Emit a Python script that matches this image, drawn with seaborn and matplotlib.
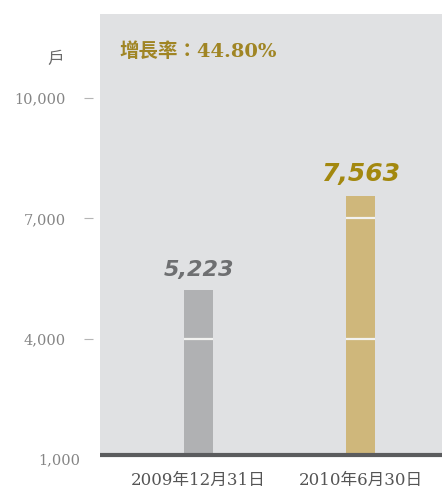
import matplotlib
matplotlib.use("Agg")
import matplotlib.pyplot as plt
import seaborn as sns
import pandas as pd

# ==========================================
# Data
# ==========================================
dates = ["2009年12月31日", "2010年6月30日"]
households = [5223, 7563]
value_labels = ["5,223", "7,563"]
y_ticks = [4000, 7000, 10000]
y_tick_labels = ["4,000", "7,000", "10,000"]
bottom_label = "1,000"
unit = "戶"
growth_text = "增長率：44.80%"

bar_colors = ["#b0b1b3", "#cfb77b"]
value_colors = ["#6e6f71", "#a3880f"]
value_sizes = [16, 18]

df = pd.DataFrame({"date": dates, "households": households})

# ==========================================
# Style
# ==========================================
sns.set_theme(style="white")
plt.rcParams["font.family"] = ["DejaVu Serif", "Noto Sans CJK TC"]

fig = plt.figure(figsize=(4.42, 4.90), dpi=100)
ax = fig.add_axes([100 / 442, 35 / 490, 342 / 442, 441 / 490])
ax.set_facecolor("#e0e1e3")

sns.barplot(data=df, x="date", y="households", hue="date",
            palette=bar_colors, saturation=1, width=0.179, linewidth=0,
            legend=False, ax=ax)

ax.set_xlim(-0.608, 1.503)
ax.set_ylim(1125, 12075)

# white gaps across the bars at each tick level
for patch in ax.patches:
    for yv in y_ticks:
        ln = ax.axhline(yv, color="#f2f2f0", lw=1.6, zorder=3)
        ln.set_clip_path(patch)

# value labels above bars
for cont, lab, col, sz in zip(ax.containers, value_labels, value_colors, value_sizes):
    ax.bar_label(cont, labels=[lab], padding=7, color=col, fontsize=sz,
                 family="DejaVu Sans", fontweight="bold", fontstyle="italic")

# spines
for s in ["top", "right", "left"]:
    ax.spines[s].set_visible(False)
ax.spines["left"].set_position(("outward", 5))
ax.spines["bottom"].set_color("#5b5c5e")
ax.spines["bottom"].set_linewidth(3)
ax.spines["bottom"].set_capstyle("butt")

# y axis
ax.set_yticks(y_ticks)
ax.set_yticklabels(y_tick_labels)
ax.tick_params(axis="y", left=True, length=6.5, width=0.8, color="#b5b5b5",
               pad=13, labelsize=10.5, labelcolor="#858585")
ax.text(-0.059, 1000, bottom_label, transform=ax.get_yaxis_transform(),
        ha="right", va="center", fontsize=10.5, color="#858585", clip_on=False)

# x axis
ax.tick_params(axis="x", bottom=False, length=0, pad=12, labelsize=12,
               labelcolor="#555555")
ax.set_xlabel("")
ax.set_ylabel("")

ax.text(-0.13, 0.896, unit, transform=ax.transAxes, ha="center", va="center",
        fontsize=12, color="#6a6a6a", family=["Noto Sans CJK TC"])

ax.text(0.058, 0.914, growth_text, transform=ax.transAxes, ha="left", va="center",
        fontsize=14, color="#a08524", fontweight="bold")

plt.savefig("out.png", dpi=100)
